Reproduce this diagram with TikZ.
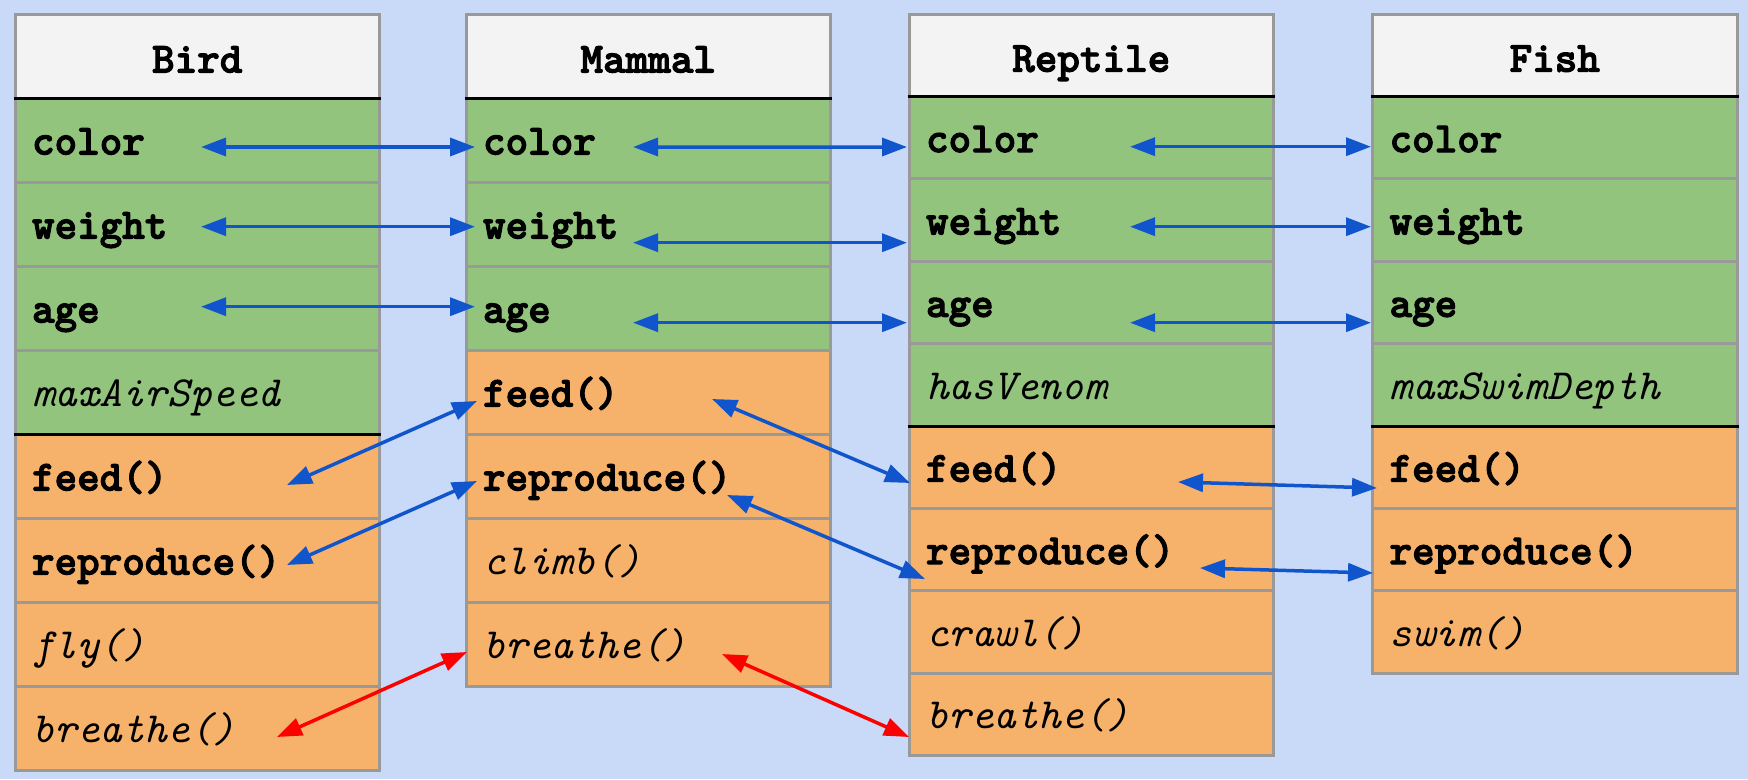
\documentclass[tikz,border=0pt]{standalone}
\usepackage{fontspec}
\newfontfamily\monobold{lmmonolt10-bold.otf}[FakeBold=2.5]
\newfontfamily\monoital{lmmono10-italic.otf}
\usetikzlibrary{arrows.meta,calc}

\definecolor{bgblue}{HTML}{C9DAF8}
\definecolor{headgray}{HTML}{F3F3F3}
\definecolor{attrgreen}{HTML}{93C47D}
\definecolor{methorange}{HTML}{F6B26B}
\definecolor{framegray}{HTML}{999999}
\definecolor{linkblue}{HTML}{1155CC}
\definecolor{linkred}{HTML}{FF0000}

\newcommand{\cellsize}{\fontsize{43}{45}\selectfont}

\begin{document}
\begin{tikzpicture}[x=1pt,y=-1pt,
  cell/.style={draw=framegray, line width=3pt, anchor=north west, outer sep=0pt,
    inner xsep=17pt, inner ysep=0pt, text width=330.5pt, minimum width=364.5pt,
    text height=30pt, text depth=1pt},
  head/.style={cell, fill=headgray, align=center, font=\monobold\cellsize,
    text height=33pt, text depth=0pt},
  attr/.style={cell, fill=attrgreen, align=left, font=\monobold\cellsize},
  ownattr/.style={cell, fill=attrgreen, align=left, font=\monoital\cellsize},
  meth/.style={cell, fill=methorange, align=left, font=\monobold\cellsize},
  ownmeth/.style={cell, fill=methorange, align=left, font=\monoital\cellsize},
  divider/.style={draw=black, line width=3pt},
  link/.style={draw=linkblue, line width=3.5pt, >={Triangle[length=25pt,width=18pt]}, <->},
  redlink/.style={link, draw=linkred},
]
% canvas
\fill[bgblue] (0,0) rectangle (1748,779);
\useasboundingbox (0,0) rectangle (1748,779);

% Bird
\begin{scope}[every node/.append style={minimum height=84pt}]
\node[head]    (B)             at (15,14)  {Bird};
\node[attr]    (B-color)       at (15,98)  {color};
\node[attr]    (B-weight)      at (15,182) {weight};
\node[attr]    (B-age)         at (15,266) {age};
\node[ownattr] (B-maxAirSpeed) at (15,350) {maxAirSpeed};
\node[meth]    (B-feed)        at (15,434) {feed()};
\node[meth]    (B-reproduce)   at (15,518) {reproduce()};
\node[ownmeth] (B-fly)         at (15,602) {fly()};
\node[ownmeth] (B-breathe)     at (15,686) {breathe()};
\end{scope}

% Mammal
\begin{scope}[every node/.append style={minimum height=84pt}]
\node[head]    (M)             at (466,14)  {Mammal};
\node[attr]    (M-color)       at (466,98)  {color};
\node[attr]    (M-weight)      at (466,182) {weight};
\node[attr]    (M-age)         at (466,266) {age};
\node[meth]    (M-feed)        at (466,350) {feed()};
\node[meth]    (M-reproduce)   at (466,434) {reproduce()};
\node[ownmeth] (M-climb)       at (466,518) {climb()};
\node[ownmeth] (M-breathe)     at (466,602) {breathe()};
\end{scope}

% Reptile
\begin{scope}[every node/.append style={minimum height=82.4pt}]
\node[head]    (R)             at (909,14)    {Reptile};
\node[attr]    (R-color)       at (909,96.4)  {color};
\node[attr]    (R-weight)      at (909,178.8) {weight};
\node[attr]    (R-age)         at (909,261.2) {age};
\node[ownattr] (R-hasVenom)    at (909,343.6) {hasVenom};
\node[meth]    (R-feed)        at (909,426)   {feed()};
\node[meth]    (R-reproduce)   at (909,508.4) {reproduce()};
\node[ownmeth] (R-crawl)       at (909,590.8) {crawl()};
\node[ownmeth] (R-breathe)     at (909,673.2) {breathe()};
\end{scope}

% Fish
\begin{scope}[every node/.append style={minimum height=82.4pt}]
\node[head]    (F)              at (1372.5,14)    {Fish};
\node[attr]    (F-color)        at (1372.5,96.4)  {color};
\node[attr]    (F-weight)       at (1372.5,178.8) {weight};
\node[attr]    (F-age)          at (1372.5,261.2) {age};
\node[ownattr] (F-maxSwimDepth) at (1372.5,343.6) {maxSwimDepth};
\node[meth]    (F-feed)         at (1372.5,426)   {feed()};
\node[meth]    (F-reproduce)    at (1372.5,508.4) {reproduce()};
\node[ownmeth] (F-swim)         at (1372.5,590.8) {swim()};
\end{scope}

% section dividers
\foreach \n in {B,M,R,F}
  \draw[divider] ($(\n.south west)+(-1.5,0)$) -- ($(\n.south east)+(1.5,0)$);
\foreach \n in {B-maxAirSpeed,R-hasVenom,F-maxSwimDepth}
  \draw[divider] ($(\n.south west)+(-1.5,0)$) -- ($(\n.south east)+(1.5,0)$);

% Bird <-> Mammal
\draw[link] ($(B-color.west)+(186,7)$)     -- ($(M-color.west)+(9,7)$);
\draw[link] ($(B-weight.west)+(186,2.7)$)  -- ($(M-weight.west)+(9,2.7)$);
\draw[link] ($(B-age.west)+(186,-1.3)$)    -- ($(M-age.west)+(9,-1.3)$);
\draw[link] ($(B-feed.west)+(272,9)$)      -- ($(M-feed.west)+(11,9)$);
\draw[link] ($(B-reproduce.west)+(272,5)$) -- ($(M-reproduce.west)+(11,5)$);
\draw[redlink] ($(B-breathe.west)+(262,9)$) -- ($(M-breathe.west)+(1,8)$);

% Mammal <-> Reptile
\draw[link] ($(M-color.west)+(167,7)$)       -- ($(R-color.west)+(-2,9.4)$);
\draw[link] ($(M-weight.west)+(167,18.7)$)   -- ($(R-weight.west)+(-2,22.7)$);
\draw[link] ($(M-age.west)+(167,14.7)$)      -- ($(R-age.west)+(-2,20.3)$);
\draw[link] ($(M-feed.west)+(246,7)$)        -- ($(R-feed.west)+(1,15.8)$);
\draw[link] ($(M-reproduce.west)+(261,19)$)  -- ($(R-reproduce.west)+(16,29.4)$);
\draw[redlink] ($(M-breathe.west)+(256,10)$) -- ($(R-breathe.west)+(0,22.6)$);

% Reptile <-> Fish
\draw[link] ($(R-color.west)+(221,9.1)$)      -- ($(F-color.west)+(-1.5,9.1)$);
\draw[link] ($(R-weight.west)+(221,6.7)$)     -- ($(F-weight.west)+(-1.5,6.7)$);
\draw[link] ($(R-age.west)+(221,20.3)$)       -- ($(F-age.west)+(-1.5,20.3)$);
\draw[link] ($(R-feed.west)+(269,14.8)$)      -- ($(F-feed.west)+(4.5,20.8)$);
\draw[link] ($(R-reproduce.west)+(291,18.4)$) -- ($(F-reproduce.west)+(0.5,23.4)$);
\end{tikzpicture}
\end{document}
